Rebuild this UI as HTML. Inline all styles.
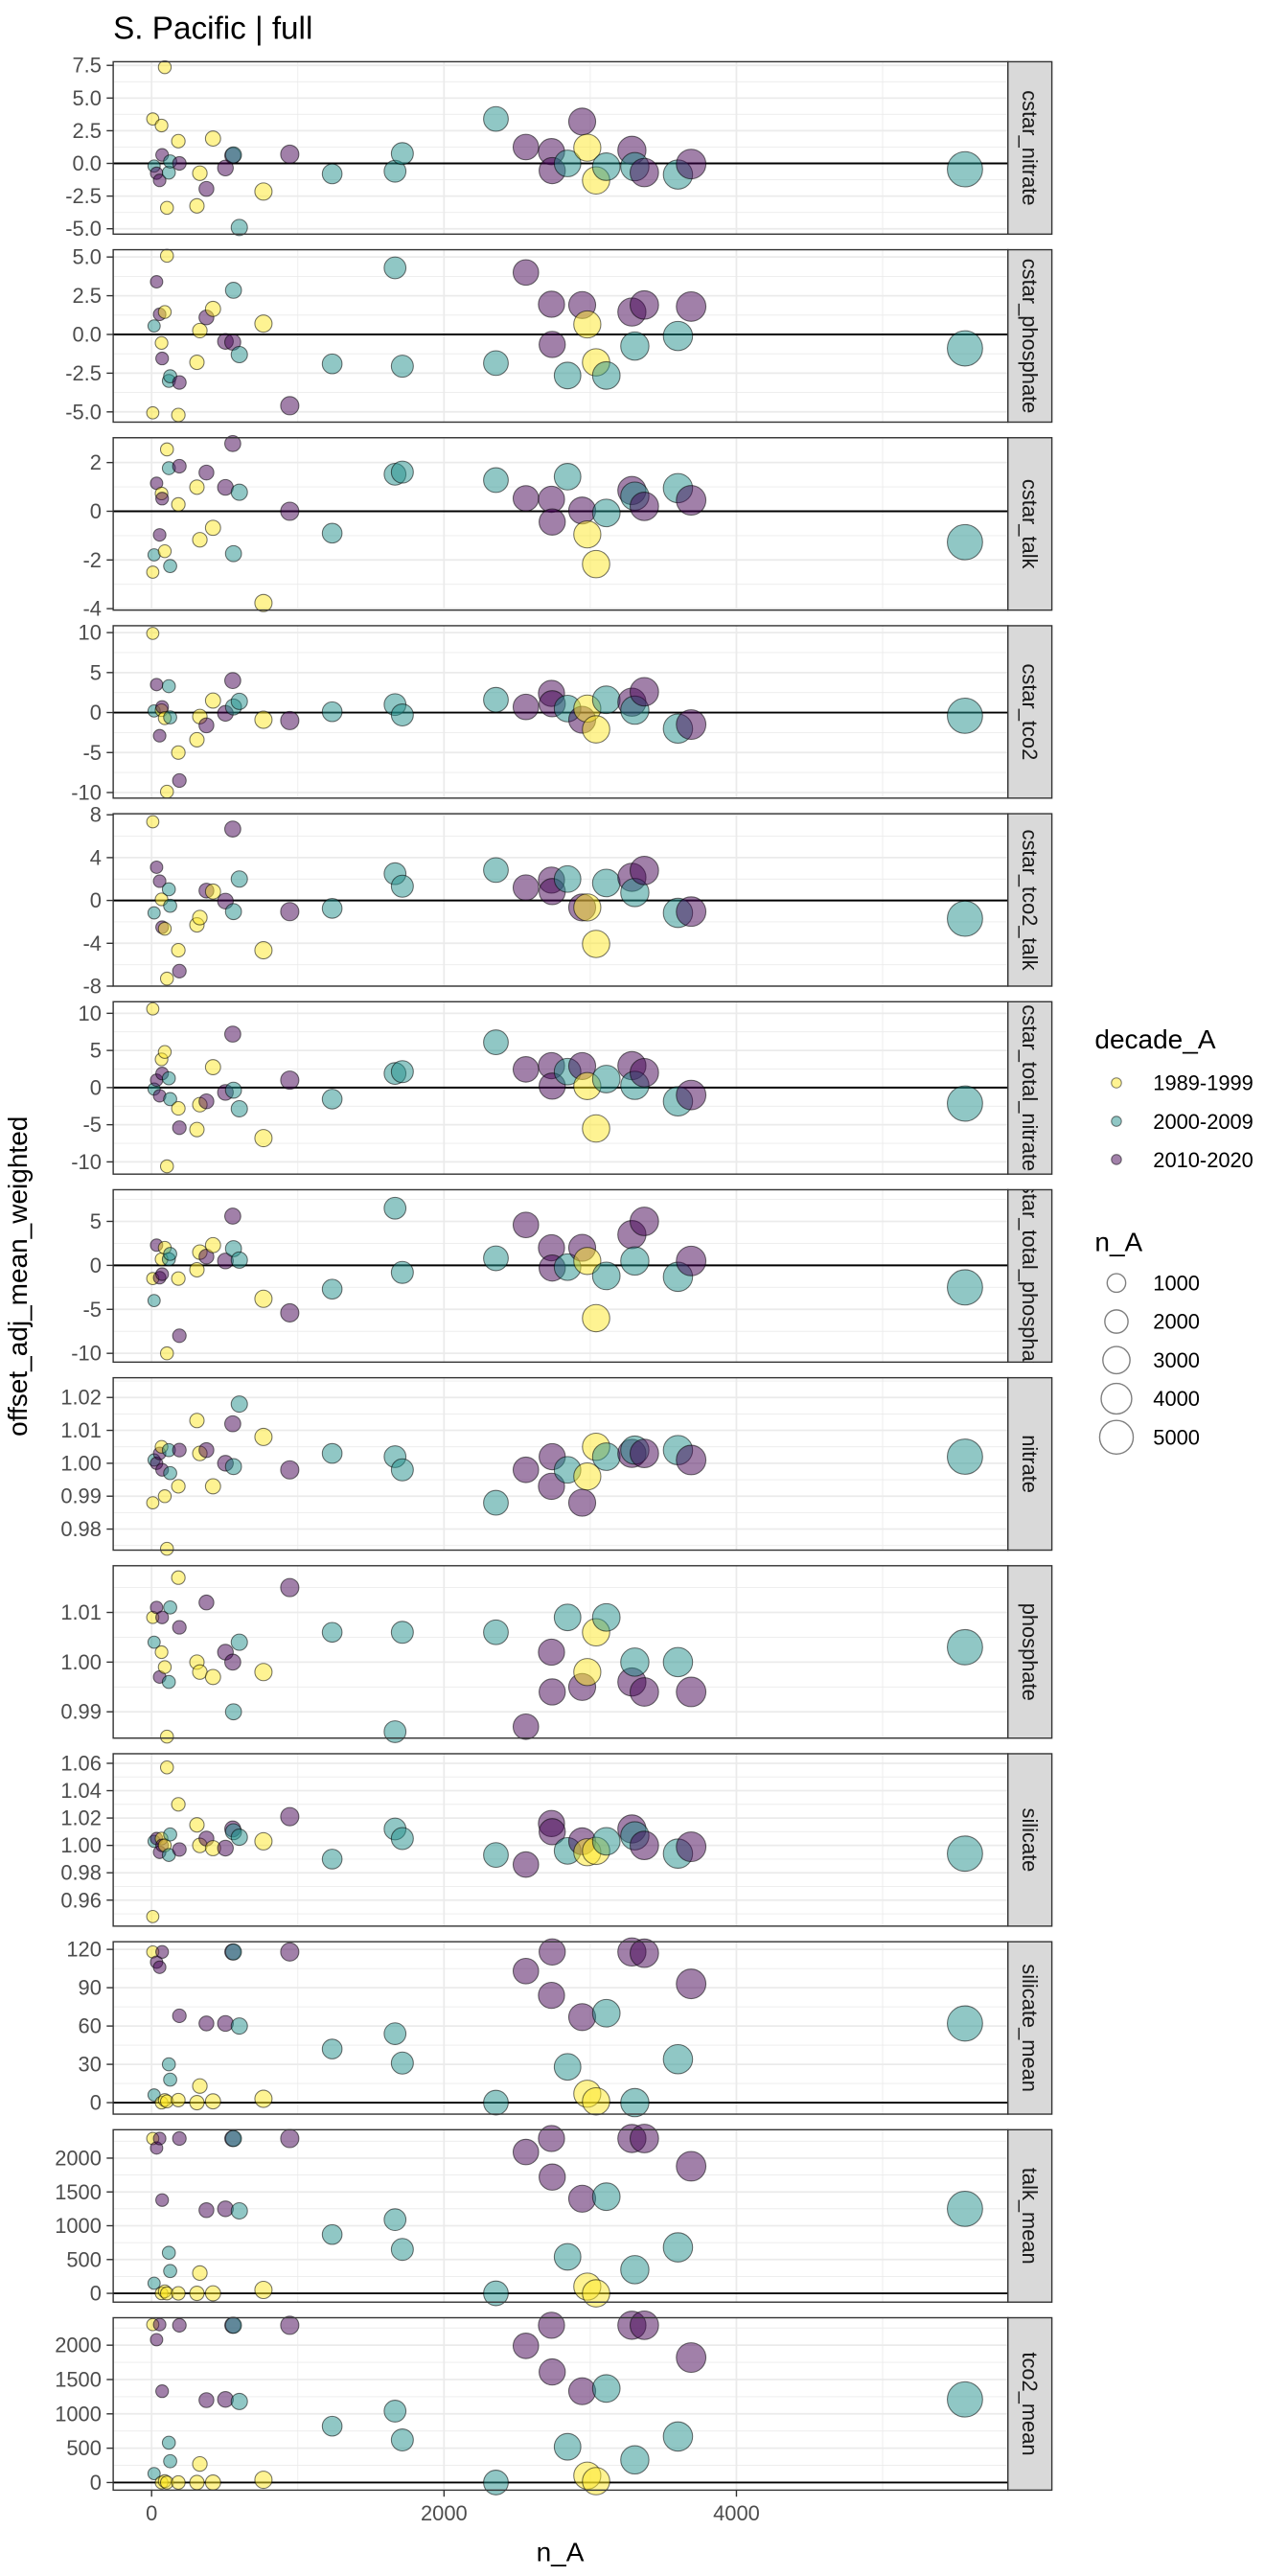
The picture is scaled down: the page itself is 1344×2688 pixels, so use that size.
<!DOCTYPE html>
<html><head><meta charset="utf-8"><style>
html,body{margin:0;padding:0;background:#fff}
svg{display:block}
text{font-family:"Liberation Sans",sans-serif}
</style></head><body>
<svg id="chart" xmlns="http://www.w3.org/2000/svg" width="1344" height="2688" viewBox="0 0 768 1536">
<rect x="0" y="0" width="768" height="1536" fill="#fff"/>
<text x="67.5" y="23" font-size="19" fill="#000">S. Pacific | full</text>
<text transform="translate(16,761) rotate(-90)" text-anchor="middle" font-size="16" fill="#000">offset_adj_mean_weighted</text>
<text x="334" y="1527" text-anchor="middle" font-size="16" fill="#000">n_A</text>
<g id="panels"></g>
<g id="legend">
<text x="652.8" y="625" font-size="16" fill="#000">decade_A</text>
<circle cx="665.7" cy="645.7" r="3" fill="#FDE725" fill-opacity="0.5" stroke="#000" stroke-opacity="0.5" stroke-width="0.6"/>
<text x="687.6" y="650" font-size="12.5" fill="#000">1989-1999</text>
<circle cx="665.7" cy="668.6" r="3" fill="#21908C" fill-opacity="0.5" stroke="#000" stroke-opacity="0.5" stroke-width="0.6"/>
<text x="687.6" y="673" font-size="12.5" fill="#000">2000-2009</text>
<circle cx="665.7" cy="691.4" r="3" fill="#440154" fill-opacity="0.5" stroke="#000" stroke-opacity="0.5" stroke-width="0.6"/>
<text x="687.6" y="696" font-size="12.5" fill="#000">2010-2020</text>
<text x="652.8" y="746" font-size="16" fill="#000">n_A</text>
<g id="sizeLegend"></g>
</g>
</svg>
<script>
// ---- data ----
const decades = ["1989-1999", "2000-2009", "2010-2020"];
const nY = [8, 68, 90, 105, 183, 310, 330, 420, 765, 2980, 3040];
const nT = [17, 118, 127, 560, 600, 1235, 1665, 1715, 2355, 2845, 3110, 3305, 3600, 5563];
const nP = [34, 55, 72, 190, 375, 505, 555, 945, 2560, 2735, 2740, 2945, 3285, 3370, 3690];
const xTicks = [0, 2000, 4000];
const sizeBreaks = [1000, 2000, 3000, 4000, 5000];

const cstarNitrateY = [3.4, 2.9, 7.36, -3.4, 1.7, -3.25, -0.75, 1.9, -2.15, 1.2, -1.3];
const cstarNitrateT = [-0.2, -0.7, 0.15, 0.65, -4.9, -0.8, -0.6, 0.75, 3.4, 0, -0.25, -0.25, -0.85, -0.45];
const cstarNitrateP = [-0.75, -1.3, 0.65, 0, -1.95, -0.35, 0.6, 0.7, 1.25, 0.9, -0.55, 3.2, 1.0, -0.7, -0.05];

const cstarPhosphateY = [-5.06, -0.55, 1.45, 5.08, -5.2, -1.8, 0.25, 1.65, 0.7, 0.65, -1.8];
const cstarPhosphateT = [0.55, -3.0, -2.7, 2.85, -1.3, -1.9, 4.3, -2.05, -1.85, -2.65, -2.65, -0.75, -0.1, -0.9];
const cstarPhosphateP = [3.4, 1.3, -1.55, -3.1, 1.1, -0.45, -0.5, -4.6, 4.0, 1.95, -0.65, 1.9, 1.45, 1.9, 1.8];

const cstarTalkY = [-2.5, 0.73, -1.64, 2.54, 0.28, 0.99, -1.17, -0.68, -3.77, -0.95, -2.17];
const cstarTalkT = [-1.79, 1.77, -2.25, -1.74, 0.78, -0.9, 1.52, 1.61, 1.28, 1.42, -0.07, 0.62, 0.95, -1.27];
const cstarTalkP = [1.15, -0.97, 0.52, 1.85, 1.59, 0.98, 2.78, 0, 0.53, 0.49, -0.44, 0.03, 0.85, 0.2, 0.45];

const cstarTco2Y = [9.9, 0.3, -0.7, -9.9, -5, -3.4, -0.5, 1.5, -0.9, 0.5, -2.1];
const cstarTco2T = [0.2, 3.3, -0.6, 0.7, 1.4, 0.1, 1.0, -0.3, 1.6, 0.5, 1.6, 0.3, -2.0, -0.4];
const cstarTco2P = [3.5, -2.9, 0.7, -8.5, -1.6, -0.1, 4.0, -1.0, 0.7, 2.4, 1.1, -0.9, 1.3, 2.6, -1.5];

const cstarTco2TalkY = [7.35, 0.1, -2.64, -7.3, -4.65, -2.28, -1.6, 0.83, -4.65, -0.65, -4.06];
const cstarTco2TalkT = [-1.16, 1.04, -0.5, -1.04, 2.0, -0.74, 2.5, 1.33, 2.84, 2.0, 1.63, 0.74, -1.16, -1.7];
const cstarTco2TalkP = [3.1, 1.8, -2.5, -6.6, 0.92, -0.06, 6.67, -1.04, 1.2, 1.9, 0.83, -0.65, 2.16, 2.8, -1.04];

const cstarTotalNitrateY = [10.6, 3.8, 4.8, -10.6, -2.8, -5.65, -2.3, 2.75, -6.8, 0.2, -5.5];
const cstarTotalNitrateT = [-0.2, 1.25, -1.55, -0.35, -2.85, -1.55, 1.9, 2.15, 6.1, 2.15, 1.15, 0.3, -1.85, -2.15];
const cstarTotalNitrateP = [1.0, -1.1, 1.9, -5.4, -1.85, -0.65, 7.2, 1.0, 2.45, 2.95, 0.2, 2.9, 2.95, 2.0, -1.0];

const cstarTotalPhosphateY = [-1.5, 0.7, 2.0, -10, -1.5, -0.5, 1.5, 2.3, -3.8, 0.5, -6.0];
const cstarTotalPhosphateT = [-4, 0.7, 1.3, 1.9, 0.6, -2.7, 6.5, -0.8, 0.8, -0.2, -1.2, 0.5, -1.3, -2.5];
const cstarTotalPhosphateP = [2.3, -1.4, -1.0, -8, 1.0, 0.5, 5.6, -5.4, 4.6, 2.0, -0.3, 2.0, 3.5, 5.0, 0.5];

const nitrateY = [0.988, 1.005, 0.990, 0.974, 0.993, 1.013, 1.003, 0.993, 1.008, 0.996, 1.005];
const nitrateT = [1.001, 1.004, 0.997, 0.999, 1.018, 1.003, 1.002, 0.998, 0.988, 0.998, 1.002, 1.004, 1.004, 1.002];
const nitrateP = [1.0, 1.003, 0.998, 1.004, 1.004, 1.0, 1.012, 0.998, 0.998, 0.993, 1.002, 0.988, 1.003, 1.003, 1.001];

const phosphateY = [1.009, 1.002, 0.999, 0.985, 1.017, 1.0, 0.998, 0.997, 0.998, 0.998, 1.006];
const phosphateT = [1.004, 0.996, 1.011, 0.990, 1.004, 1.006, 0.986, 1.006, 1.006, 1.009, 1.009, 1.0, 1.0, 1.003];
const phosphateP = [1.011, 0.997, 1.009, 1.007, 1.012, 1.002, 1.0, 1.015, 0.987, 1.002, 0.994, 0.995, 0.996, 0.994, 0.994];

const silicateY = [0.948, 1.005, 1.0, 1.057, 1.03, 1.015, 1.0, 0.998, 1.003, 0.995, 0.996];
const silicateT = [1.003, 0.993, 1.008, 1.01, 1.006, 0.99, 1.012, 1.005, 0.993, 0.996, 1.003, 1.007, 0.994, 0.994];
const silicateP = [1.005, 0.995, 1.0, 0.997, 1.005, 0.998, 1.012, 1.021, 0.986, 1.016, 1.01, 1.003, 1.012, 1.0, 0.999];

const silicateMeanY = [118, 0, 2, 1, 2, 0, 13, 1, 3, 7, 1];
const silicateMeanT = [6, 30, 18, 118, 60, 42, 54, 31, 0, 28, 70, 0, 34, 62];
const silicateMeanP = [110, 106, 118, 68, 62, 62, 118, 118, 103, 84, 118, 67, 118, 117, 93];

const talkMeanY = [2290, 0, 30, 0, 0, 0, 300, 0, 50, 100, 0];
const talkMeanT = [150, 600, 330, 2290, 1220, 870, 1090, 650, 0, 540, 1430, 350, 680, 1250];
const talkMeanP = [2150, 2290, 1380, 2290, 1230, 1250, 2290, 2290, 2090, 2290, 1720, 1400, 2290, 2290, 1880];

const tco2MeanY = [2300, 0, 20, 0, 0, 0, 270, 0, 40, 100, 20];
const tco2MeanT = [130, 580, 310, 2290, 1180, 820, 1040, 620, 0, 520, 1370, 330, 670, 1210];
const tco2MeanP = [2080, 2300, 1330, 2290, 1200, 1210, 2290, 2290, 1990, 2290, 1610, 1330, 2290, 2290, 1820];

const facetNames = ["cstar_nitrate","cstar_phosphate","cstar_talk","cstar_tco2","cstar_tco2_talk","cstar_total_nitrate","cstar_total_phosphate","nitrate","phosphate","silicate","silicate_mean","talk_mean","tco2_mean"];
const yTicks = [
  ["7.5","5.0","2.5","0.0","-2.5","-5.0"],
  ["5.0","2.5","0.0","-2.5","-5.0"],
  ["2","0","-2","-4"],
  ["10","5","0","-5","-10"],
  ["8","4","0","-4","-8"],
  ["10","5","0","-5","-10"],
  ["5","0","-5","-10"],
  ["1.02","1.01","1.00","0.99","0.98"],
  ["1.01","1.00","0.99"],
  ["1.06","1.04","1.02","1.00","0.98","0.96"],
  ["120","90","60","30","0"],
  ["2000","1500","1000","500","0"],
  ["2000","1500","1000","500","0"]
];
const yLims = [[-5.41,7.78],[-5.66,5.47],[-4.06,3.02],[-10.7,10.86],[-8.0,8.1],[-11.65,11.56],[-11.0,8.6],[0.9736,1.026],[0.9847,1.0194],[0.941,1.067],[-9,126],[-130,2420],[-111,2400]];
const facetY = [cstarNitrateY,cstarPhosphateY,cstarTalkY,cstarTco2Y,cstarTco2TalkY,cstarTotalNitrateY,cstarTotalPhosphateY,nitrateY,phosphateY,silicateY,silicateMeanY,talkMeanY,tco2MeanY];
const facetT = [cstarNitrateT,cstarPhosphateT,cstarTalkT,cstarTco2T,cstarTco2TalkT,cstarTotalNitrateT,cstarTotalPhosphateT,nitrateT,phosphateT,silicateT,silicateMeanT,talkMeanT,tco2MeanT];
const facetP = [cstarNitrateP,cstarPhosphateP,cstarTalkP,cstarTco2P,cstarTco2TalkP,cstarTotalNitrateP,cstarTotalPhosphateP,nitrateP,phosphateP,silicateP,silicateMeanP,talkMeanP,tco2MeanP];

// ---- layout ----
const NS = "http://www.w3.org/2000/svg";
const PL = 67.5, PR = 601, SW = 26.2, TOP0 = 36.8, PITCH = 112.1, PH = 102.8;
const X0 = 90.4, XK = 0.08718;
const colors = ["#FDE725", "#21908C", "#440154"];
function xS(n){ return X0 + n * XK; }
function rS(n){ return Math.sqrt(13 + 0.0175 * n); }
function mk(tag, attrs, parent){
  const e = document.createElementNS(NS, tag);
  for (const k in attrs) e.setAttribute(k, attrs[k]);
  parent.appendChild(e); return e;
}
const root = document.getElementById("panels");
const xMin = (PL - X0) / XK, xMax = (PR - X0) / XK;

facetNames.forEach((name, i) => {
  const top = TOP0 + i * PITCH, bot = top + PH;
  const [lo, hi] = yLims[i];
  const yS = v => bot - (v - lo) / (hi - lo) * PH;
  const g = mk("g", {}, root);
  
  
  mk("rect", {x: PL, y: top, width: PR - PL, height: PH, fill: "#fff"}, g);
  const tv = yTicks[i].map(Number);
  const step = tv[0] - tv[1];
  for (let k = -1; k < tv.length; k++) {
    const v = (k < 0 ? tv[0] + step / 2 : tv[k] - step / 2);
    if (v > lo && v < hi) mk("line", {x1: PL, x2: PR, y1: yS(v), y2: yS(v), stroke: "#EBEBEB", "stroke-width": 0.5}, g);
  }
  for (let v = -1000; v <= 6000; v += 2000) {
    if (v > xMin && v < xMax) mk("line", {x1: xS(v), x2: xS(v), y1: top, y2: bot, stroke: "#EBEBEB", "stroke-width": 0.5}, g);
  }
  tv.forEach(v => { mk("line", {x1: PL, x2: PR, y1: yS(v), y2: yS(v), stroke: "#EBEBEB", "stroke-width": 1}, g); });
  xTicks.forEach(v => { mk("line", {x1: xS(v), x2: xS(v), y1: top, y2: bot, stroke: "#EBEBEB", "stroke-width": 1}, g); });
  const z = mk("line", {x1: PL, x2: PR, y1: yS(0), y2: yS(0), stroke: "#000", "stroke-width": 1.1}, g);
  
  
  if (yS(0) < top || yS(0) > bot) z.remove();
  const pts = [];
  nY.forEach((n, j) => pts.push([n, facetY[i][j], 0]));
  nT.forEach((n, j) => pts.push([n, facetT[i][j], 1]));
  nP.forEach((n, j) => pts.push([n, facetP[i][j], 2]));
  pts.sort((a, b) => a[0] - b[0]);
  pts.forEach(p => {
    const c = mk("circle", {cx: xS(p[0]), cy: yS(p[1]), r: rS(p[0]), fill: colors[p[2]], "fill-opacity": 0.5, stroke: "#000", "stroke-opacity": 0.55, "stroke-width": 0.6}, g);
    
    
  });
  mk("rect", {x: PL, y: top, width: PR - PL, height: PH, fill: "none", stroke: "#333", "stroke-width": 0.8}, g);
  yTicks[i].forEach(lbl => {
    const y = yS(Number(lbl));
    mk("line", {x1: 63.6, x2: PL, y1: y, y2: y, stroke: "#333", "stroke-width": 0.8}, g);
    const t = mk("text", {x: 60.5, y: y + 4.3, "text-anchor": "end", "font-size": 12.5, fill: "#4D4D4D"}, g);
    t.textContent = lbl;
    
    
  });
  const cp = mk("clipPath", {id: "clip" + i}, g);
  mk("rect", {x: PR, y: top, width: SW, height: PH}, cp);
  const s = mk("rect", {x: PR, y: top, width: SW, height: PH, fill: "#D9D9D9", stroke: "#333", "stroke-width": 0.8}, g);
  
  
  const sg = mk("g", {"clip-path": "url(#clip" + i + ")"}, g);
  const st = mk("text", {transform: "translate(" + (PR + SW / 2 - 4.4) + "," + (top + PH / 2) + ") rotate(90)", "text-anchor": "middle", "font-size": 12.5, fill: "#1A1A1A"}, sg);
  st.textContent = name;
  
  
});

const lastBot = TOP0 + 12 * PITCH + PH;
const xa = document.getElementById("panels");
xTicks.forEach(v => {
  mk("line", {x1: xS(v), x2: xS(v), y1: lastBot, y2: lastBot + 3.9, stroke: "#333", "stroke-width": 0.8}, xa);
  const t = mk("text", {x: xS(v), y: lastBot + 18, "text-anchor": "middle", "font-size": 12.5, fill: "#4D4D4D"}, xa);
  t.textContent = String(v);
  
  
});

const sl = document.getElementById("sizeLegend");
const sizeY = [765, 788, 811, 834, 857];
sizeBreaks.forEach((b, k) => {
  const c = mk("circle", {cx: 665.7, cy: sizeY[k], r: rS(b), fill: "none", stroke: "#000", "stroke-opacity": 0.5, "stroke-width": 0.8}, sl);
  
  
  const t = mk("text", {x: 687.6, y: sizeY[k] + 4.4, "font-size": 12.5, fill: "#000"}, sl);
  t.textContent = String(b);
  
  
});
</script>
</body></html>
